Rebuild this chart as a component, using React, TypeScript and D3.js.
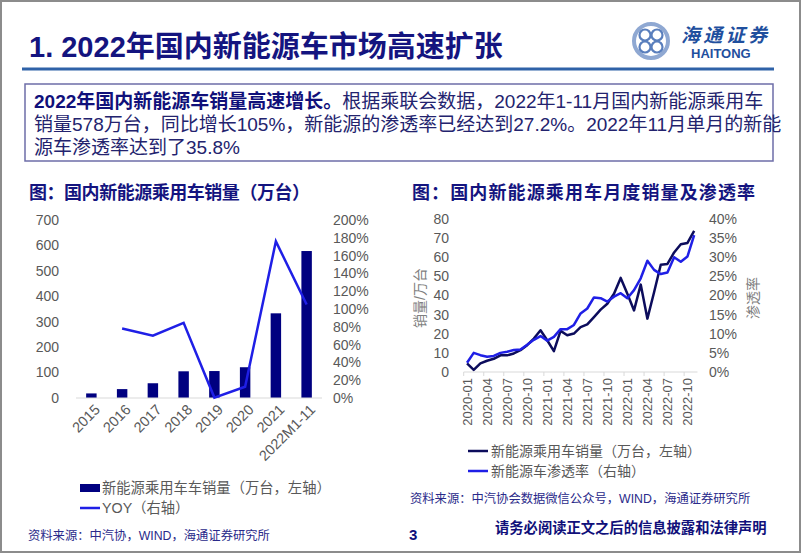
import { useEffect, useRef } from "react";
import * as d3 from "d3";

const FONT = "'Liberation Sans', Arial, 'Noto Sans CJK SC', sans-serif";

// left chart: annual NEV passenger car sales
const years = ["2015", "2016", "2017", "2018", "2019", "2020", "2021", "2022M1-11"];
const annualSales = [18, 35, 58, 105, 106, 121, 333, 578];
const annualYoy = [null, 0.78, 0.7, 0.845, 0.005, 0.127, 1.76, 1.05];
const salesTicks = [0, 100, 200, 300, 400, 500, 600, 700];
const yoyTicks = [0, 0.2, 0.4, 0.6, 0.8, 1.0, 1.2, 1.4, 1.6, 1.8, 2.0];

// right chart: monthly sales and penetration
const months = [
  "2020-01", "2020-02", "2020-03", "2020-04", "2020-05", "2020-06", "2020-07", "2020-08", "2020-09", "2020-10", "2020-11", "2020-12",
  "2021-01", "2021-02", "2021-03", "2021-04", "2021-05", "2021-06", "2021-07", "2021-08", "2021-09", "2021-10", "2021-11", "2021-12",
  "2022-01", "2022-02", "2022-03", "2022-04", "2022-05", "2022-06", "2022-07", "2022-08", "2022-09", "2022-10", "2022-11",
];
const monthlySales = [
  4.5, 1.1, 4.5, 5.9, 6.9, 8.7, 8.7, 9.7, 11.4, 14, 17.5, 21.8,
  16.6, 10.9, 21.5, 19.2, 20.1, 23.5, 24.9, 28.7, 32.6, 35.7, 40.9, 49.2,
  40.9, 32.2, 45.7, 27.9, 41.7, 56.1, 56.5, 62.5, 66.8, 67.5, 73.8,
];
const penetration = [
  0.024, 0.05, 0.044, 0.04, 0.042, 0.05, 0.053, 0.0575, 0.059, 0.071, 0.084, 0.094,
  0.082, 0.092, 0.112, 0.112, 0.123, 0.153, 0.166, 0.195, 0.193, 0.184, 0.197, 0.206,
  0.193, 0.214, 0.245, 0.291, 0.267, 0.256, 0.26, 0.3, 0.288, 0.302, 0.358,
];
const monthLabels = ["2020-01", "2020-04", "2020-07", "2020-10", "2021-01", "2021-04", "2021-07", "2021-10", "2022-01", "2022-04", "2022-07", "2022-10"];
const volumeTicks = [0, 10, 20, 30, 40, 50, 60, 70, 80];
const rateTicks = [0, 0.05, 0.1, 0.15, 0.2, 0.25, 0.3, 0.35, 0.4];

const NAVY = "#000080";
const BLUE = "#1f1fe6";
const DARK = "#0c0c5c";
const GREY_TEXT = "#595959";
const AXIS = "#d9d9d9";
const TITLE = "#14147f";

export default function App() {
  const ref = useRef<SVGSVGElement>(null);

  useEffect(() => {
    if (!ref.current) return;
    const svg = d3.select(ref.current);
    svg.selectAll("*").remove();

    // page frame
    svg.append("rect").attr("x", 1).attr("y", 1).attr("width", 799).attr("height", 551)
      .attr("fill", "#fff").attr("stroke", "#8c8c8c").attr("stroke-width", 2);

    // header
    svg.append("text").attr("x", 29).attr("y", 57)
      .style("font-family", FONT).style("font-size", "29px").style("font-weight", "bold")
      .attr("fill", TITLE).text("1. 2022年国内新能源车市场高速扩张");
    svg.append("line").attr("x1", 22).attr("x2", 774).attr("y1", 69).attr("y2", 69)
      .attr("stroke", "#2f62a8").attr("stroke-width", 3);

    // logo
    const logo = svg.append("g").attr("transform", "translate(651,41)");
    logo.append("circle").attr("r", 17).attr("fill", "none").attr("stroke", "#8fa8d2").attr("stroke-width", 4);
    [[-6, -6], [6, -6], [-6, 6], [6, 6]].forEach(([cx, cy]) => {
      logo.append("circle").attr("cx", cx).attr("cy", cy).attr("r", 5.5)
        .attr("fill", "none").attr("stroke", "#5a7fbd").attr("stroke-width", 2.2);
    });
    svg.append("text").attr("x", 681).attr("y", 42)
      .style("font-family", FONT).style("font-size", "19px").style("font-style", "italic").style("font-weight", "bold")
      .attr("fill", "#1f4f9e").attr("textLength", 86).text("海通证券");
    svg.append("text").attr("x", 691).attr("y", 58)
      .style("font-family", FONT).style("font-size", "13px").style("font-weight", "bold")
      .attr("fill", "#1f4f9e").text("HAITONG");

    // summary box
    svg.append("rect").attr("x", 25).attr("y", 84).attr("width", 748).attr("height", 77)
      .attr("fill", "none").attr("stroke", "#6d6da8").attr("stroke-width", 1.5);
    const bodyLines = [
      ["2022年国内新能源车销量高速增长。", "根据乘联会数据，2022年1-11月国内新能源乘用车"],
      ["", "销量578万台，同比增长105%，新能源的渗透率已经达到27.2%。2022年11月单月的新能"],
      ["", "源车渗透率达到了35.8%"],
    ];
    bodyLines.forEach(([b, r], i) => {
      const t = svg.append("text").attr("x", 34).attr("y", 108 + i * 23)
        .style("font-family", FONT).style("font-size", "19px").attr("fill", "#23236e");
      if (b) t.append("tspan").style("font-weight", "bold").attr("fill", "#10107a").text(b);
      t.append("tspan").text(r);
    });

    // chart titles
    svg.append("text").attr("x", 29).attr("y", 199)
      .style("font-family", FONT).style("font-size", "18px").style("font-weight", "bold")
      .attr("fill", TITLE).attr("textLength", 281).text("图：国内新能源乘用车销量（万台）");
    svg.append("text").attr("x", 412).attr("y", 199)
      .style("font-family", FONT).style("font-size", "18px").style("font-weight", "bold")
      .attr("fill", TITLE).attr("textLength", 343).text("图：国内新能源乘用车月度销量及渗透率");

    // ---------- left chart ----------
    const x1 = d3.scaleBand().domain(years).range([76, 322]);
    const yL = d3.scaleLinear().domain([0, 700]).range([398, 220]);
    const yR = d3.scaleLinear().domain([0, 2]).range([398, 220]);
    const barW = x1.bandwidth() * 0.34;

    svg.append("g").selectAll("rect").data(years).join("rect")
      .attr("x", (d) => (x1(d) || 0) + x1.bandwidth() / 2 - barW / 2)
      .attr("y", (_, i) => yL(annualSales[i]))
      .attr("width", barW)
      .attr("height", (_, i) => yL(0) - yL(annualSales[i]))
      .attr("fill", NAVY);

    svg.append("line").attr("x1", 76).attr("x2", 322).attr("y1", yL(0)).attr("y2", yL(0))
      .attr("stroke", AXIS).attr("stroke-width", 1);

    const yoyLine = d3.line<number | null>()
      .defined((d) => d !== null)
      .x((_, i) => (x1(years[i]) || 0) + x1.bandwidth() / 2)
      .y((d) => yR(d as number));
    svg.append("path").attr("d", yoyLine(annualYoy) || "")
      .attr("fill", "none").attr("stroke", BLUE).attr("stroke-width", 2.5);

    svg.append("g").selectAll("text").data(salesTicks).join("text")
      .attr("x", 59).attr("y", (d) => yL(d)).attr("dy", "0.35em").attr("text-anchor", "end")
      .style("font-family", FONT).style("font-size", "14px").attr("fill", GREY_TEXT)
      .text((d) => String(d));
    svg.append("g").selectAll("text").data(yoyTicks).join("text")
      .attr("x", 333).attr("y", (d) => yR(d)).attr("dy", "0.35em")
      .style("font-family", FONT).style("font-size", "14px").attr("fill", GREY_TEXT)
      .text((d) => d3.format(".0%")(d));
    svg.append("g").selectAll("text").data(years).join("text")
      .attr("transform", (d) => `translate(${(x1(d) || 0) + x1.bandwidth() / 2 + 6},${yL(0) + 9}) rotate(-45)`)
      .attr("text-anchor", "end").attr("dy", "0.35em")
      .style("font-family", FONT).style("font-size", "14.5px").attr("fill", GREY_TEXT)
      .text((d) => d);

    // left legend
    svg.append("rect").attr("x", 80).attr("y", 484).attr("width", 20).attr("height", 8).attr("fill", NAVY);
    svg.append("text").attr("x", 102).attr("y", 488).attr("dy", "0.35em")
      .style("font-family", FONT).style("font-size", "14.3px").attr("fill", GREY_TEXT)
      .text("新能源乘用车车销量（万台，左轴）");
    svg.append("line").attr("x1", 80).attr("x2", 100).attr("y1", 508).attr("y2", 508)
      .attr("stroke", BLUE).attr("stroke-width", 2.5);
    svg.append("text").attr("x", 102).attr("y", 508).attr("dy", "0.35em")
      .style("font-family", FONT).style("font-size", "14.3px").attr("fill", GREY_TEXT)
      .text("YOY（右轴）");
    svg.append("text").attr("x", 28).attr("y", 536).attr("dy", "0.35em")
      .style("font-family", FONT).style("font-size", "12.3px").attr("fill", "#2a2a8a")
      .text("资料来源：中汽协，WIND，海通证券研究所");

    // ---------- right chart ----------
    const x2 = d3.scalePoint().domain(months).range([463.7, 697.5]).padding(0.5);
    const step = x2.step();
    const yV = d3.scaleLinear().domain([0, 80]).range([372, 219]);
    const yP = d3.scaleLinear().domain([0, 0.4]).range([372, 219]);

    svg.append("line").attr("x1", 463.7).attr("x2", 697.5).attr("y1", yV(0)).attr("y2", yV(0))
      .attr("stroke", AXIS).attr("stroke-width", 1);
    svg.append("g").selectAll("line").data(monthLabels).join("line")
      .attr("x1", (d) => (x2(d) || 0) - step / 2).attr("x2", (d) => (x2(d) || 0) - step / 2)
      .attr("y1", yV(0)).attr("y2", yV(0) + 4).attr("stroke", AXIS);

    const salesLine = d3.line<number>().x((_, i) => x2(months[i]) || 0).y((d) => yV(d));
    const rateLine = d3.line<number>().x((_, i) => x2(months[i]) || 0).y((d) => yP(d));
    svg.append("path").attr("d", salesLine(monthlySales) || "")
      .attr("fill", "none").attr("stroke", DARK).attr("stroke-width", 2.5).attr("stroke-linejoin", "round");
    svg.append("path").attr("d", rateLine(penetration) || "")
      .attr("fill", "none").attr("stroke", BLUE).attr("stroke-width", 2.5).attr("stroke-linejoin", "round");

    svg.append("g").selectAll("text").data(volumeTicks).join("text")
      .attr("x", 449).attr("y", (d) => yV(d)).attr("dy", "0.35em").attr("text-anchor", "end")
      .style("font-family", FONT).style("font-size", "14px").attr("fill", GREY_TEXT)
      .text((d) => String(d));
    svg.append("g").selectAll("text").data(rateTicks).join("text")
      .attr("x", 709).attr("y", (d) => yP(d)).attr("dy", "0.35em")
      .style("font-family", FONT).style("font-size", "14px").attr("fill", GREY_TEXT)
      .text((d) => d3.format(".0%")(d));
    svg.append("g").selectAll("text").data(monthLabels).join("text")
      .attr("transform", (d) => `translate(${x2(d) || 0},${yV(0) + 6}) rotate(-90)`)
      .attr("text-anchor", "end").attr("dy", "0.35em")
      .style("font-family", FONT).style("font-size", "13px").attr("fill", GREY_TEXT)
      .text((d) => d);

    svg.append("text").attr("transform", "translate(420,298) rotate(-90)")
      .attr("text-anchor", "middle").attr("dy", "0.35em")
      .style("font-family", FONT).style("font-size", "14px").attr("fill", "#7f7f7f")
      .text("销量/万台");
    svg.append("text").attr("transform", "translate(753,298) rotate(-90)")
      .attr("text-anchor", "middle").attr("dy", "0.35em")
      .style("font-family", FONT).style("font-size", "14px").attr("fill", "#7f7f7f")
      .text("渗透率");

    // right legend
    svg.append("line").attr("x1", 468).attr("x2", 488).attr("y1", 451).attr("y2", 451)
      .attr("stroke", DARK).attr("stroke-width", 2.5);
    svg.append("text").attr("x", 491).attr("y", 451).attr("dy", "0.35em")
      .style("font-family", FONT).style("font-size", "14px").attr("fill", GREY_TEXT)
      .text("新能源乘用车销量（万台，左轴）");
    svg.append("line").attr("x1", 468).attr("x2", 488).attr("y1", 471).attr("y2", 471)
      .attr("stroke", BLUE).attr("stroke-width", 2.5);
    svg.append("text").attr("x", 491).attr("y", 471).attr("dy", "0.35em")
      .style("font-family", FONT).style("font-size", "14px").attr("fill", GREY_TEXT)
      .text("新能源车渗透率（右轴）");
    svg.append("text").attr("x", 410).attr("y", 499).attr("dy", "0.35em")
      .style("font-family", FONT).style("font-size", "12.3px").attr("fill", "#2a2a8a")
      .text("资料来源：中汽协会数据微信公众号，WIND，海通证券研究所");

    // footer
    svg.append("text").attr("x", 409).attr("y", 535).attr("dy", "0.35em")
      .style("font-family", FONT).style("font-size", "15px").style("font-weight", "bold")
      .attr("fill", "#10107a").text("3");
    svg.append("text").attr("x", 495).attr("y", 528).attr("dy", "0.35em")
      .style("font-family", FONT).style("font-size", "14.3px").style("font-weight", "bold")
      .attr("fill", "#10107a").text("请务必阅读正文之后的信息披露和法律声明");
  }, []);

  return (
    <svg
      ref={ref}
      width={802}
      height={554}
      style={{ position: "absolute", left: 0, top: 0, background: "#fff" }}
    />
  );
}
